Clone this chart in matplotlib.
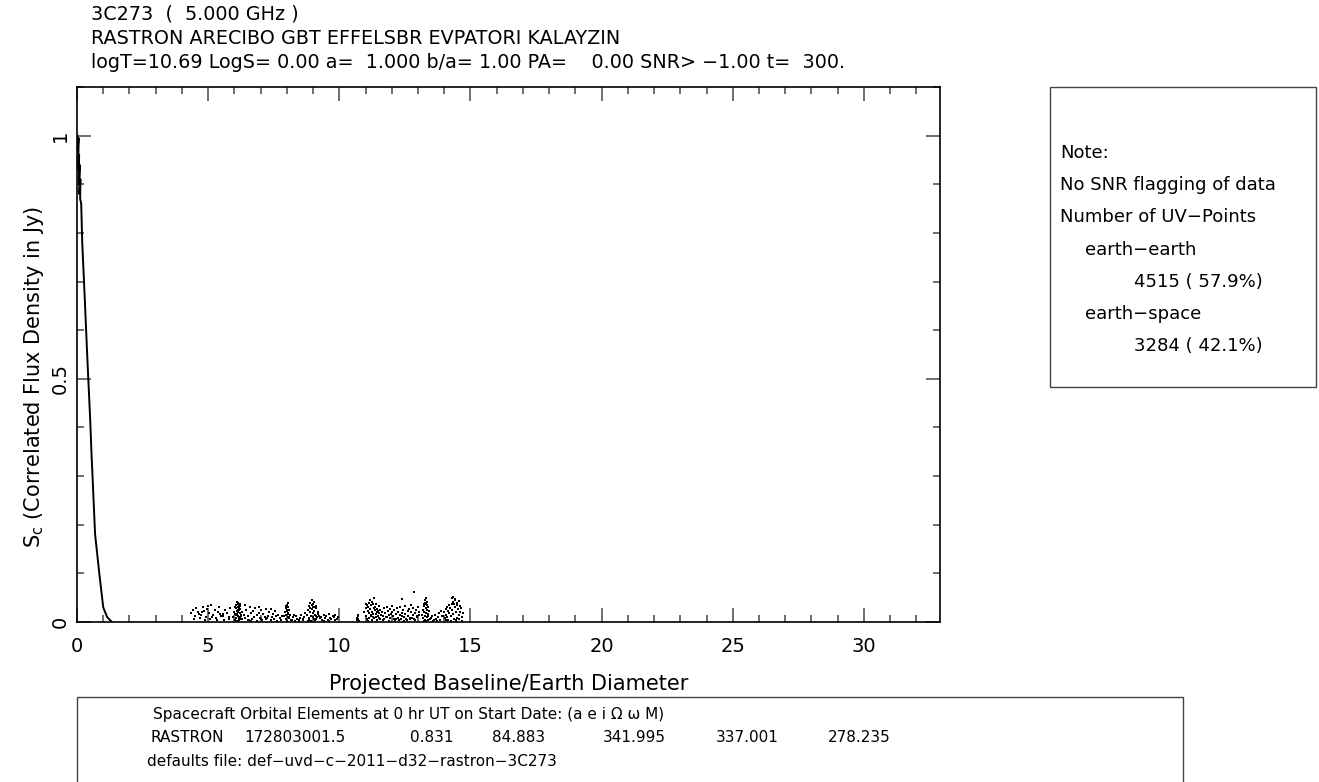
import numpy as np
import matplotlib.pyplot as plt
from matplotlib.patches import Rectangle
from matplotlib.ticker import MultipleLocator

# earth-earth visibilities (short baselines, follow the model curve)
ee_x = [0.02, 0.04, 0.03, 0.06, 0.05, 0.08, 0.07, 0.10, 0.09, 0.13, 0.12, 0.16, 0.20,
        0.30, 0.38, 0.43, 0.50, 0.55, 0.60, 0.64, 0.69, 0.85, 1.00, 1.15, 1.33]
ee_y = [1.00, 0.99, 0.97, 0.995, 0.93, 0.96, 0.90, 0.94, 0.88, 0.91, 0.87, 0.86, 0.78,
        0.66, 0.56, 0.50, 0.42, 0.35, 0.29, 0.24, 0.18, 0.10, 0.03, 0.01, 0.00]

s1_x = [4.35, 4.42, 4.5, 4.55, 4.6, 4.68, 4.72, 4.8, 4.85, 4.9, 4.95, 5.02, 5.08, 5.12, 5.2, 5.25, 5.3, 5.38,
        5.42, 5.5, 5.55, 5.6, 5.65, 5.72, 5.78, 5.85, 4.45, 4.65, 4.88, 5.15, 5.35, 5.58, 5.8, 4.75, 5.0, 5.45]
s1_y = [.018, .024, .012, .028, .02, .008, .015, .03, .022, .01, .026, .018, .006, .035, .014, .024, .009, .02,
        .03, .012, .017, .004, .025, .019, .011, .028, .006, .016, .004, .01, .005, .013, .007, .02, .033, .016]
s2_x = [5.96, 6.0, 6.02, 6.05, 6.06, 6.08, 6.1, 6.1, 6.12, 6.13, 6.15, 6.15, 6.16, 6.18, 6.2, 6.2, 6.22, 6.24,
        6.25, 6.28, 6.04, 6.09, 6.11, 6.14, 6.17, 6.19, 6.21, 6.07, 6.12, 6.16, 6.23, 6.03, 6.13, 6.18, 6.26, 6.3]
s2_y = [.01, .02, .005, .028, .015, .035, .042, .022, .03, .012, .04, .025, .008, .033, .018, .038, .027, .014,
        .006, .02, .031, .002, .017, .036, .011, .024, .032, .009, .003, .029, .01, .016, .021, .004, .013, .007]
s3_x = [6.35, 6.4, 6.45, 6.5, 6.52, 6.58, 6.62, 6.68, 6.7, 6.75, 6.8, 6.85, 6.88, 6.92, 6.98, 7.02, 7.05, 7.1,
        7.15, 7.2, 7.22, 7.28, 7.32, 7.38, 7.42, 7.48, 7.52, 7.58, 7.62, 7.68, 7.72, 7.78, 6.42, 6.65, 6.95,
        7.25, 7.55, 7.8, 6.55, 7.0, 7.4]
s3_y = [.015, .008, .025, .012, .004, .03, .018, .006, .022, .01, .028, .014, .003, .019, .009, .024, .005, .016,
        .011, .027, .007, .013, .02, .004, .01, .017, .006, .012, .003, .015, .008, .005, .035, .002, .031,
        .009, .022, .012, .004, .006, .026]
s4_x = [7.9, 7.93, 7.95, 7.97, 7.98, 8.0, 8.01, 8.03, 8.04, 8.05, 8.06, 8.08, 8.1, 8.12, 8.15, 7.96, 8.02, 8.07,
        7.99, 8.04]
s4_y = [.012, .02, .006, .028, .015, .035, .022, .04, .01, .03, .018, .025, .008, .014, .005, .032, .003, .011,
        .024, .017]
s5_x = [8.2, 8.25, 8.3, 8.35, 8.4, 8.45, 8.5, 8.55, 8.6, 8.65, 8.7, 8.28, 8.48, 8.62]
s5_y = [.005, .01, .003, .012, .007, .004, .009, .014, .006, .011, .018, .015, .002, .004]
s6_x = [8.78, 8.8, 8.83, 8.85, 8.88, 8.9, 8.92, 8.94, 8.95, 8.97, 9.0, 9.0, 9.02, 9.04, 9.05, 9.08, 9.1, 9.12,
        9.15, 9.18, 9.2, 9.25, 8.86, 8.93, 8.98, 9.03, 9.07, 9.13, 8.9, 9.0, 9.1, 8.82, 9.22]
s6_y = [.015, .025, .008, .032, .02, .04, .012, .035, .026, .045, .018, .038, .03, .022, .042, .014, .028, .033,
        .01, .02, .016, .008, .005, .003, .01, .006, .004, .012, .028, .03, .007, .003, .012]
s7_x = [9.3, 9.35, 9.4, 9.45, 9.5, 9.55, 9.6, 9.65, 9.7, 9.75, 9.8, 9.85, 9.9, 9.95, 9.42, 9.62, 9.82]
s7_y = [.01, .005, .014, .008, .012, .004, .016, .009, .006, .013, .01, .015, .007, .011, .002, .003, .004]
s8_x = [10.66, 10.68, 10.7, 10.72, 10.74, 10.7]
s8_y = [.008, .004, .012, .006, .002, .015]
s9_x = [10.96, 11.0, 11.02, 11.05, 11.08, 11.1, 11.12, 11.15, 11.18, 11.2, 11.22, 11.25, 11.28, 11.3, 11.32,
        11.35, 11.38, 11.4, 11.42, 11.45, 11.48, 11.5, 11.52, 11.55, 11.58, 11.06, 11.14, 11.24, 11.34, 11.44,
        11.54, 11.1, 11.2, 11.3, 11.4, 11.5, 11.16, 11.26, 11.36, 11.46, 11.03, 11.33]
s9_y = [.02, .028, .012, .035, .022, .03, .018, .04, .026, .014, .034, .021, .038, .01, .029,
        .024, .016, .036, .02, .027, .012, .032, .018, .025, .015, .006, .008, .004, .009, .005,
        .007, .002, .013, .017, .011, .008, .045, .042, .03, .022, .038, .05]
s10_x = [11.62, 11.65, 11.7, 11.72, 11.75, 11.8, 11.82, 11.85, 11.9, 11.92, 11.95, 12.0, 12.02, 12.05, 12.1,
         12.12, 12.15, 12.2, 12.22, 12.25, 12.3, 12.32, 12.35, 12.4, 12.42, 12.45, 12.5, 12.52, 12.55, 12.6,
         12.62, 12.65, 12.7, 12.72, 12.75, 12.8, 12.82, 12.85, 12.9, 12.92, 12.95, 13.0, 13.02, 13.05, 11.68,
         11.88, 12.08, 12.28, 12.48, 12.68, 12.88, 11.78, 11.98, 12.18, 12.38, 12.58, 12.78, 12.98, 12.84, 12.4]
s10_y = [.02, .012, .028, .006, .018, .03, .01, .022, .015, .026, .008, .02, .033, .012, .024,
         .004, .017, .029, .009, .021, .014, .03, .006, .019, .025, .011, .032, .016, .007, .023,
         .013, .027, .009, .02, .035, .015, .028, .006, .018, .024, .011, .03, .014, .021, .004,
         .003, .006, .005, .003, .007, .004, .01, .016, .007, .012, .004, .009, .013, .062, .048]
s11_x = [13.15, 13.18, 13.2, 13.22, 13.24, 13.25, 13.27, 13.28, 13.3, 13.3, 13.32, 13.33, 13.35, 13.36, 13.38,
         13.4, 13.42, 13.45, 13.21, 13.26, 13.31, 13.37, 13.29, 13.34, 13.23, 13.39]
s11_y = [.015, .025, .008, .032, .02, .04, .012, .045, .028, .036, .018, .042, .024, .01, .03,
         .016, .022, .006, .003, .005, .002, .004, .05, .034, .038, .012]
s12_x = [13.5, 13.55, 13.6, 13.65, 13.7, 13.75, 13.8, 13.85, 13.9, 13.58, 13.72, 13.88]
s12_y = [.008, .012, .004, .015, .006, .01, .018, .005, .012, .002, .003, .022]
s13_x = [13.96, 14.0, 14.02, 14.05, 14.08, 14.1, 14.12, 14.15, 14.18, 14.2, 14.22, 14.25, 14.28, 14.3, 14.32,
         14.35, 14.38, 14.4, 14.42, 14.45, 14.48, 14.5, 14.52, 14.55, 14.58, 14.6, 14.62, 14.65, 14.68, 14.7,
         14.06, 14.16, 14.26, 14.36, 14.46, 14.56, 14.66, 14.3, 14.4, 14.5, 14.33, 14.44]
s13_y = [.012, .02, .008, .026, .015, .03, .01, .022, .034, .018, .028, .012, .036, .024, .042,
         .016, .038, .03, .046, .02, .034, .04, .026, .044, .014, .032, .02, .028, .01, .018,
         .004, .005, .003, .006, .004, .007, .003, .05, .048, .009, .052, .002]

es_x = s1_x + s2_x + s3_x + s4_x + s5_x + s6_x + s7_x + s8_x + s9_x + s10_x + s11_x + s12_x + s13_x
es_y = s1_y + s2_y + s3_y + s4_y + s5_y + s6_y + s7_y + s8_y + s9_y + s10_y + s11_y + s12_y + s13_y

x_ticks = [0, 5, 10, 15, 20, 25, 30]
y_ticks = [0, 0.5, 1]
y_tick_labels = ['0', '0.5', '1']

title_lines = [
    '3C273  (  5.000 GHz )',
    'RASTRON ARECIBO GBT EFFELSBR EVPATORI KALAYZIN',
    'logT=10.69 LogS= 0.00 a=  1.000 b/a= 1.00 PA=    0.00 SNR> \u22121.00 t=  300.',
]
note_lines = [
    ('Note:', 0),
    ('No SNR flagging of data', 0),
    ('Number of UV\u2212Points', 0),
    ('earth\u2212earth', 1),
    ('4515 ( 57.9%)', 2),
    ('earth\u2212space', 1),
    ('3284 ( 42.1%)', 2),
]
orbit_header = 'Spacecraft Orbital Elements at 0 hr UT on Start Date: (a e i \u03a9 \u03c9 M)'
orbit_values = ['RASTRON', '172803001.5', '0.831', '84.883', '341.995', '337.001', '278.235']
defaults_file = 'defaults file: def\u2212uvd\u2212c\u22122011\u2212d32\u2212rastron\u22123C273'

W, H = 1319, 782
fig = plt.figure(figsize=(W / 100, H / 100), dpi=100)
ax = fig.add_axes([77 / W, 1 - 622 / H, (940 - 77) / W, (622 - 87) / H])

ax.plot(ee_x, ee_y, '-', color='black', linewidth=1.4)
ax.plot(es_x, es_y, 's', color='black', markersize=1.9, markeredgewidth=0)

ax.set_xlim(0, 32.9)
ax.set_ylim(0, 1.1)
ax.set_xticks(x_ticks)
ax.set_xticklabels([str(t) for t in x_ticks])
ax.xaxis.set_minor_locator(MultipleLocator(1))
ax.set_yticks(y_ticks)
ax.set_yticklabels(y_tick_labels, rotation=90, va='center')
ax.yaxis.set_minor_locator(MultipleLocator(0.1))
ax.tick_params(which='both', direction='in', top=True, right=True, colors='#555555',
               labelcolor='black', labelsize=14)
ax.tick_params(which='major', length=10, width=1.2)
ax.tick_params(which='minor', length=5, width=1.2)
ax.tick_params(axis='x', pad=11)
ax.tick_params(axis='y', pad=5)
for s in ax.spines.values():
    s.set_linewidth(1.2)

ax.set_xlabel('Projected Baseline/Earth Diameter', fontsize=15, labelpad=13)
ax.set_ylabel('S$_\\mathrm{c}$ (Correlated Flux Density in Jy)', fontsize=15)
ax.yaxis.set_label_coords(-0.036, (622 - 377) / (622 - 87))

for i, line in enumerate(title_lines):
    fig.text(91 / W, 1 - (20 + 24 * i) / H, line, fontsize=13.8, va='baseline', ha='left')

# note box
fig.patches.append(Rectangle((1050 / W, 1 - 387 / H), 266 / W, 300 / H, transform=fig.transFigure,
                             fill=False, edgecolor='#444444', linewidth=1))
indent = [1060, 1085, 1134]
for i, (line, lev) in enumerate(note_lines):
    fig.text(indent[lev] / W, 1 - (153 + 32.2 * i) / H, line, fontsize=13, va='center', ha='left')

# orbital elements box
fig.patches.append(Rectangle((77 / W, -0.05), (1183 - 77) / W, 1 - 697 / H + 0.05, transform=fig.transFigure,
                             fill=False, edgecolor='#444444', linewidth=1))
fig.text(153 / W, 1 - 715 / H, orbit_header, fontsize=11, va='center', ha='left')
col_x = [151, 244, 410, 492, 603, 716, 828]
for cx, val in zip(col_x, orbit_values):
    fig.text(cx / W, 1 - 738 / H, val, fontsize=11, va='center', ha='left')
fig.text(147 / W, 1 - 761 / H, defaults_file, fontsize=11, va='center', ha='left')

fig.savefig('out.png', dpi=100)
